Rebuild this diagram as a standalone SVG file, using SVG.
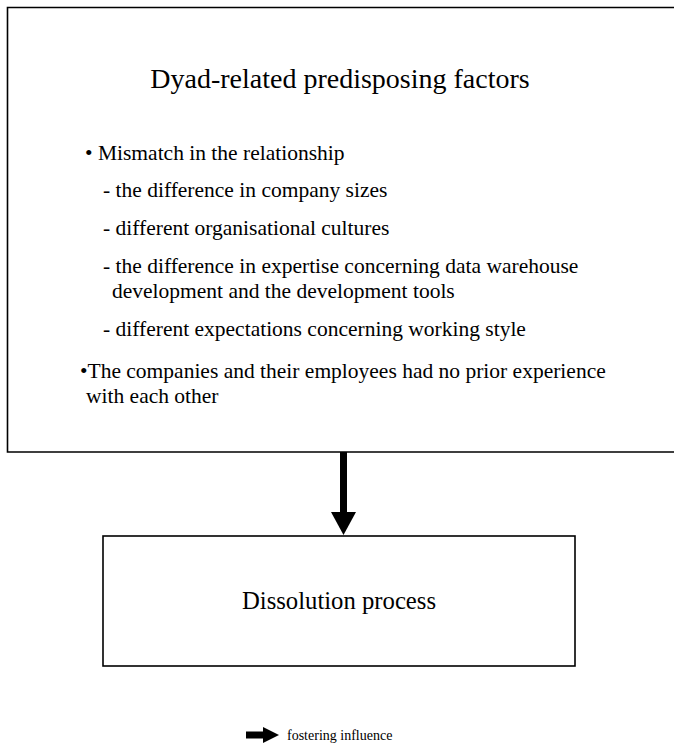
<svg xmlns="http://www.w3.org/2000/svg" width="674" height="749" viewBox="0 0 674 749">
  <defs>
    <style>
      .box { fill: #fff; stroke: #000; stroke-width: 1.6; }
      .t { font-family: "Liberation Serif", "Times New Roman", serif; fill: #000; }
      .title { font-size: 28px; }
      .body { font-size: 21.5px; }
      .legend { font-size: 14px; }
    </style>
  </defs>
  <rect width="674" height="749" fill="#fff"/>

  <!-- upper box: open on the right, runs past the page edge -->
  <g id="factors">
    <path class="box" d="M676 7.5 H7.5 V452 H676"/>
    <text class="t title" x="340" y="88" text-anchor="middle">Dyad-related predisposing factors</text>
    <text class="t body" x="85" y="160">• Mismatch in the relationship</text>
    <text class="t body" x="103" y="197">- the difference in company sizes</text>
    <text class="t body" x="103" y="235">- different organisational cultures</text>
    <text class="t body" x="103" y="273">- the difference in expertise concerning data warehouse</text>
    <text class="t body" x="112" y="298">development and the development tools</text>
    <text class="t body" x="103" y="336">- different expectations concerning working style</text>
    <text class="t body" x="80" y="378">•The companies and their employees had no prior experience</text>
    <text class="t body" x="86" y="403">with each other</text>
  </g>

  <g id="dissolution">
    <rect class="box" x="103" y="536" width="472" height="130"/>
    <text class="t" x="339" y="609" font-size="24.7" text-anchor="middle">Dissolution process</text>
  </g>

  <!-- block arrow: shaft plus triangular head -->
  <g id="connectors">
    <rect x="340" y="452" width="7" height="61"/>
    <polygon points="331,512 356,512 343.5,535"/>
  </g>

  <g id="legend">
    <rect x="246" y="731.5" width="18" height="7"/>
    <polygon points="263,727 279,735 263,743"/>
    <text class="t legend" x="287" y="740">fostering influence</text>
  </g>
</svg>
